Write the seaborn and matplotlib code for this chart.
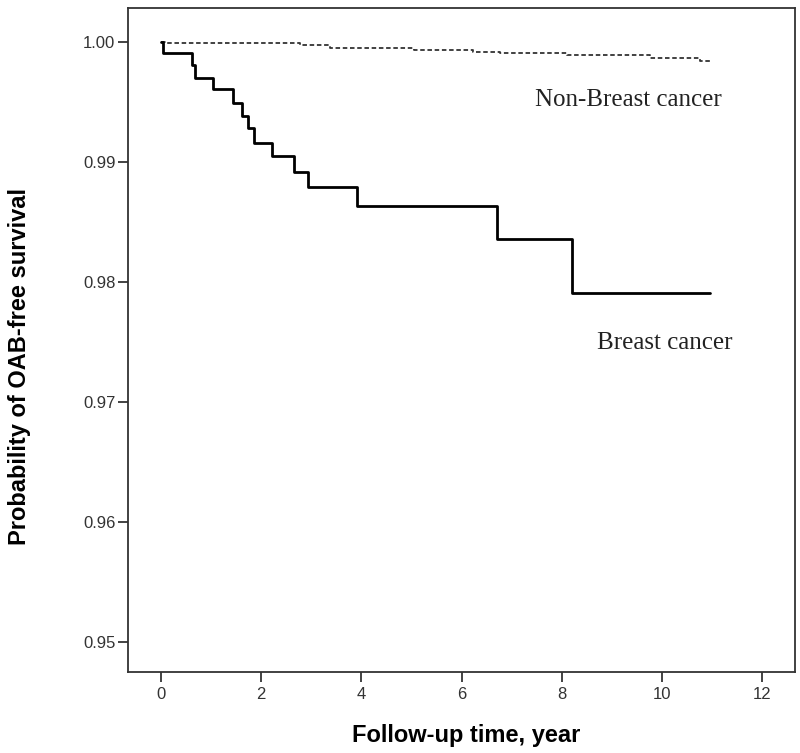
import matplotlib
matplotlib.use("Agg")
import matplotlib.pyplot as plt
import seaborn as sns
import pandas as pd

# ---- data ----
breast_time = [0.0, 0.03, 0.61, 0.68, 1.04, 1.43, 1.61, 1.74, 1.86, 2.21, 2.65, 2.94, 3.92, 6.70, 8.21, 10.96]
breast_surv = [1.0, 0.9991, 0.99808, 0.99698, 0.99606, 0.99494, 0.99383, 0.99281, 0.99161, 0.9905,
               0.98919, 0.98789, 0.98636, 0.98358, 0.97906, 0.97906]

nonbreast_time = [0.0, 0.1, 2.77, 3.37, 5.04, 6.23, 6.77, 8.1, 9.76, 10.76, 10.99]
nonbreast_surv = [1.0, 0.99992, 0.99975, 0.99953, 0.99933, 0.99917, 0.99908, 0.99892, 0.99864, 0.99844, 0.99844]

x_ticks = [0, 2, 4, 6, 8, 10, 12]
y_ticks = [0.95, 0.96, 0.97, 0.98, 0.99, 1.00]
y_ticklabels = ["0.95", "0.96", "0.97", "0.98", "0.99", "1.00"]

x_label = "Follow-up time, year"
y_label = "Probability of OAB-free survival"
label_breast = "Breast cancer"
label_nonbreast = "Non-Breast cancer"

df_b = pd.DataFrame({"time": breast_time, "surv": breast_surv})
df_n = pd.DataFrame({"time": nonbreast_time, "surv": nonbreast_surv})

sns.set_theme(style="white")
plt.rcParams["font.family"] = ["Liberation Sans", "DejaVu Sans"]

fig = plt.figure(figsize=(8.0, 7.53), dpi=100)
ax = fig.add_axes([0.16, 0.1076, 0.83375, 0.8818])

sns.lineplot(data=df_n, x="time", y="surv", ax=ax, estimator=None, sort=False,
             drawstyle="steps-post", color="#333333", linewidth=1.3,
             linestyle=(0, (2.5, 1.5)))
sns.lineplot(data=df_b, x="time", y="surv", ax=ax, estimator=None, sort=False,
             drawstyle="steps-post", color="black", linewidth=2.0)

ax.set_xlim(-0.659, 12.655)
ax.set_ylim(0.9475, 1.002833)
ax.set_xticks(x_ticks)
ax.set_xticklabels([str(t) for t in x_ticks])
ax.set_yticks(y_ticks)
ax.set_yticklabels(y_ticklabels)

ax.tick_params(axis="x", which="major", direction="out", length=7, width=1.2,
               color="#222222", labelsize=12, labelcolor="#333333", pad=4,
               bottom=True, top=False)
ax.tick_params(axis="y", which="major", direction="out", length=7, width=1.2,
               color="#222222", labelsize=12, labelcolor="#333333", pad=2,
               left=True, right=False)

for side, sp in ax.spines.items():
    sp.set_visible(True)
    sp.set_color("#333333")
    sp.set_linewidth(1.3)

ax.set_xlabel(x_label, fontsize=17, fontweight="bold", color="black")
ax.set_ylabel(y_label, fontsize=17, fontweight="bold", color="black")
ax.xaxis.set_label_coords(0.5075, -0.079)
ax.yaxis.set_label_coords(-0.145, 0.46)

serif = ["Liberation Serif", "DejaVu Serif"]
ax.text(9.32, 0.99517, label_nonbreast, fontsize=18, family=serif,
        color="#222222", ha="center", va="center")
ax.text(10.06, 0.97492, label_breast, fontsize=18, family=serif,
        color="#222222", ha="center", va="center")

ax.grid(False)
fig.savefig("out.png", dpi=100, facecolor="white")
